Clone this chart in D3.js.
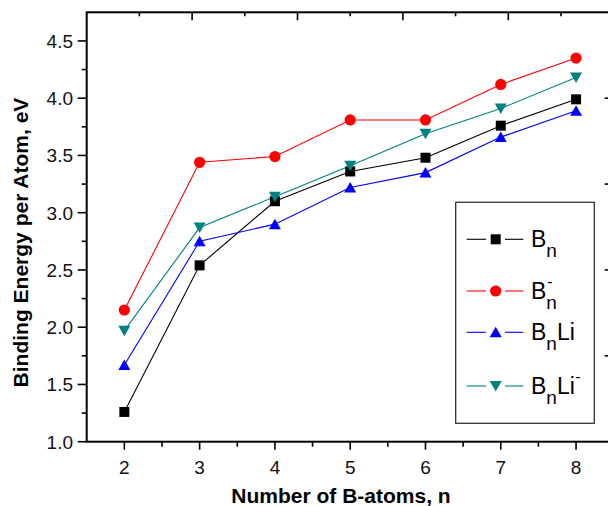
<!DOCTYPE html>
<html lang="en">
<head>
  <meta charset="UTF-8">
  <title>Binding Energy per Atom</title>
  <style>
    body {
      margin: 0;
      padding: 0;
      background-color: #fff;
    }
    svg {
      display: block;
      font-family: "Liberation Sans", Arial, sans-serif;
    }
    .spine { stroke: #000; stroke-width: 2; fill: none; }
    .tick { stroke: #000; stroke-width: 1.6; }
    .ticklabel { font-size: 19px; fill: #111; }
    .title { font-size: 21px; font-weight: bold; fill: #000; }
    .series { fill: none; stroke-width: 1.1; }
  </style>
</head>
<body>
  <div id="chart"></div>
  <script src="https://d3js.org/d3.v7.min.js"></script>
  <script>
    // values
    const nAtoms = [2, 3, 4, 5, 6, 7, 8];
    const bn = [1.26, 2.54, 3.10, 3.36, 3.48, 3.76, 3.99];
    const bnAnion = [2.15, 3.44, 3.49, 3.81, 3.81, 4.12, 4.35];
    const bnLi = [1.67, 2.75, 2.90, 3.22, 3.35, 3.66, 3.89];
    const bnLiAnion = [1.97, 2.87, 3.14, 3.41, 3.69, 3.91, 4.18];

    const xTicks = [2, 3, 4, 5, 6, 7, 8];
    const xMinor = [2.5, 3.5, 4.5, 5.5, 6.5, 7.5];
    const yTicks = [1.0, 1.5, 2.0, 2.5, 3.0, 3.5, 4.0, 4.5];
    const yMinor = [1.25, 1.75, 2.25, 2.75, 3.25, 3.75, 4.25];
    const topTicks = [1, 2, 3, 4, 5, 6, 7, 8, 9];
    const rightTicks = [1.75, 2.5, 3.25, 4.0];

    const series = [
      { name: "Bn", values: bn, color: "#000000", symbol: "square" },
      { name: "Bn-", values: bnAnion, color: "#ff0000", symbol: "circle" },
      { name: "BnLi", values: bnLi, color: "#0000ff", symbol: "up" },
      { name: "BnLi-", values: bnLiAnion, color: "#008080", symbol: "down" }
    ];

    const width = 608;
    const height = 506;
    const plotLeft = 86.7, plotRight = 613.7, plotTop = 12.3, plotBottom = 441.7;

    const svg = d3.select("#chart")
      .append("svg")
      .attr("width", width)
      .attr("height", height);

    svg.append("rect").attr("width", width).attr("height", height).attr("fill", "#fff");

    const x = d3.scaleLinear().domain([1.5, 8.5]).range([plotLeft, plotRight]);
    const y = d3.scaleLinear().domain([1.0, 4.75]).range([plotBottom, plotTop]);
    const xTop = d3.scaleLinear().domain([0, 10]).range([plotLeft, plotRight]);

    // ticks
    const ticks = svg.append("g");
    ticks.selectAll(".xmaj").data(xTicks).enter().append("line")
      .attr("class", "tick")
      .attr("x1", d => x(d)).attr("x2", d => x(d))
      .attr("y1", plotBottom).attr("y2", plotBottom + 8);
    ticks.selectAll(".xmin").data(xMinor).enter().append("line")
      .attr("class", "tick")
      .attr("x1", d => x(d)).attr("x2", d => x(d))
      .attr("y1", plotBottom).attr("y2", plotBottom + 5);
    ticks.selectAll(".ymaj").data(yTicks).enter().append("line")
      .attr("class", "tick")
      .attr("x1", plotLeft - 9).attr("x2", plotLeft)
      .attr("y1", d => y(d)).attr("y2", d => y(d));
    ticks.selectAll(".ymin").data(yMinor).enter().append("line")
      .attr("class", "tick")
      .attr("x1", plotLeft - 5).attr("x2", plotLeft)
      .attr("y1", d => y(d)).attr("y2", d => y(d));
    ticks.selectAll(".tmaj").data(topTicks).enter().append("line")
      .attr("class", "tick")
      .attr("x1", d => xTop(d)).attr("x2", d => xTop(d))
      .attr("y1", plotTop).attr("y2", d => plotTop + (d % 2 === 0 ? 8 : 4));
    ticks.selectAll(".rmaj").data(rightTicks).enter().append("line")
      .attr("class", "tick")
      .attr("x1", plotRight - 9).attr("x2", plotRight)
      .attr("y1", d => y(d)).attr("y2", d => y(d));

    // spines
    svg.append("rect")
      .attr("class", "spine")
      .attr("x", plotLeft).attr("y", plotTop)
      .attr("width", plotRight - plotLeft).attr("height", plotBottom - plotTop);

    // tick labels
    svg.selectAll(".xl").data(xTicks).enter().append("text")
      .attr("class", "ticklabel")
      .attr("x", d => x(d)).attr("y", 474)
      .attr("text-anchor", "middle")
      .text(d => d);
    svg.selectAll(".yl").data(yTicks).enter().append("text")
      .attr("class", "ticklabel")
      .attr("x", 73).attr("y", d => y(d) + 7)
      .attr("text-anchor", "end")
      .text(d => d.toFixed(1));

    // axis titles
    svg.append("text")
      .attr("class", "title")
      .attr("x", 341).attr("y", 502.5)
      .attr("text-anchor", "middle")
      .text("Number of B-atoms, n");
    svg.append("text")
      .attr("class", "title")
      .attr("transform", "translate(28,242.5) rotate(-90)")
      .attr("text-anchor", "middle")
      .text("Binding Energy per Atom, eV");

    // markers
    function drawMarker(sel, symbol, color) {
      if (symbol === "square") {
        sel.append("rect").attr("x", -5).attr("y", -5).attr("width", 10).attr("height", 10).attr("fill", color);
      } else if (symbol === "circle") {
        sel.append("circle").attr("r", 5.6).attr("fill", color);
      } else if (symbol === "up") {
        sel.append("path").attr("d", "M0,-5.5L6,5L-6,5Z").attr("fill", color);
      } else {
        sel.append("path").attr("d", "M0,5.5L6,-5L-6,-5Z").attr("fill", color);
      }
    }

    const line = d3.line().x((d, i) => x(nAtoms[i])).y(d => y(d));

    series.forEach(s => {
      svg.append("path")
        .attr("class", "series")
        .attr("stroke", s.color)
        .attr("d", line(s.values));
    });
    series.forEach(s => {
      s.values.forEach((v, i) => {
        const g = svg.append("g").attr("transform", `translate(${x(nAtoms[i])},${y(v)})`);
        drawMarker(g, s.symbol, s.color);
      });
    });

    // legend
    const legendRows = [239.3, 291, 332.3, 386];
    const legend = svg.append("g");
    legend.append("rect")
      .attr("x", 455.7).attr("y", 202.3)
      .attr("width", 138.6).attr("height", 221)
      .attr("fill", "#fff")
      .attr("stroke", "#333").attr("stroke-width", 1.3);

    series.forEach((s, i) => {
      const ry = legendRows[i];
      legend.append("line").attr("x1", 466.7).attr("x2", 486).attr("y1", ry).attr("y2", ry)
        .attr("stroke", s.color).attr("stroke-width", 1.1);
      legend.append("line").attr("x1", 505).attr("x2", 523.3).attr("y1", ry).attr("y2", ry)
        .attr("stroke", s.color).attr("stroke-width", 1.1);
      drawMarker(legend.append("g").attr("transform", `translate(495.7,${ry})`), s.symbol, s.color);

      const base = ry + 7.5;
      const bText = legend.append("text").attr("x", 531).attr("y", base)
        .attr("font-size", 23).text("B");
      const bx = 531 + bText.node().getComputedTextLength();
      const nText = legend.append("text").attr("x", bx).attr("y", base + 10)
        .attr("font-size", 19).text("n");
      if (s.name === "Bn-") {
        legend.append("text").attr("x", bx + 1).attr("y", base - 12)
          .attr("font-size", 16).text("-");
      }
      if (s.name.startsWith("BnLi")) {
        const nx = bx + nText.node().getComputedTextLength();
        const li = legend.append("text").attr("x", nx).attr("y", base)
          .attr("font-size", 23).text("Li");
        if (s.name === "BnLi-") {
          const lx = nx + li.node().getComputedTextLength();
          legend.append("text").attr("x", lx + 0.5).attr("y", base - 12)
            .attr("font-size", 16).text("-");
        }
      }
    });
  </script>
</body>
</html>
